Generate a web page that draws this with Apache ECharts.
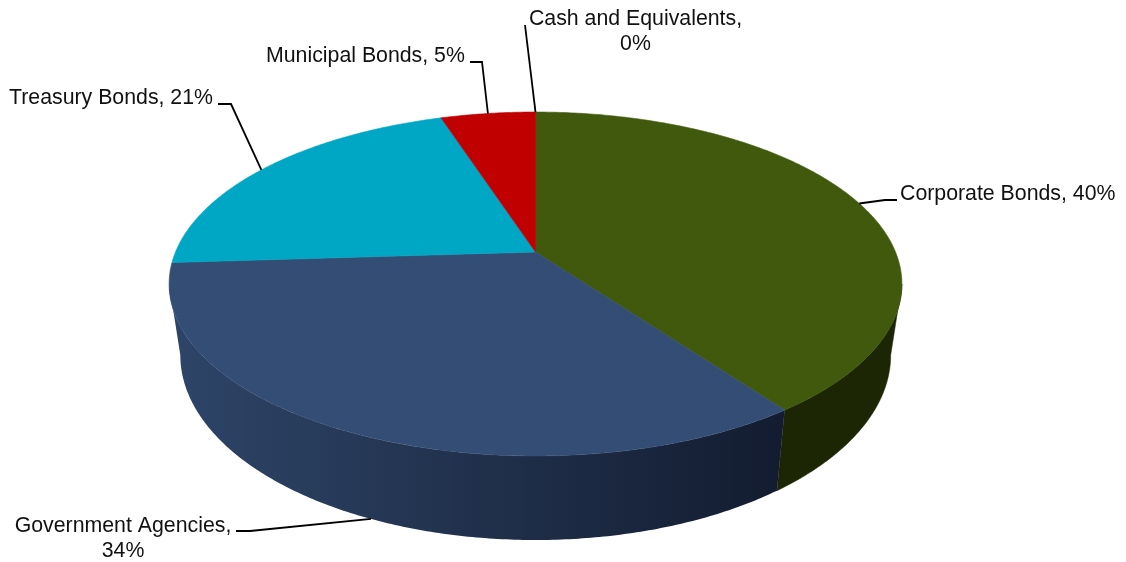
<!DOCTYPE html>
<html>
<head>
<meta charset="utf-8">
<title>Bond portfolio allocation</title>
<style>
  html, body { margin: 0; padding: 0; background: #fff; }
  #chart { width: 1126px; height: 562px; }
</style>
<script src="https://cdn.jsdelivr.net/npm/echarts@6/dist/echarts.min.js"></script>
</head>
<body>
<div id="chart"></div>
<script>
// Allocation by asset class, clockwise from twelve o'clock.
const categories = ['Corporate Bonds', 'Government Agencies', 'Treasury Bonds', 'Municipal Bonds', 'Cash and Equivalents'];
const shares = [40, 34, 21, 5, 0];
const labelLines = [
  ['Corporate Bonds, 40%'],
  ['Government Agencies,', '34%'],
  ['Treasury Bonds, 21%'],
  ['Municipal Bonds, 5%'],
  ['Cash and Equivalents,', '0%']
];

// Face colours.
const topColors = ['#40590c', '#344d74', '#00a7c4', '#c00000', '#7f7f7f'];
const wallColors = [
  ['#1c2604', '#1c2604'],
  ['#2e4568', '#131c30'],
  ['#00606f', '#00606f'],
  ['#700000', '#700000'],
  ['#444444', '#444444']
];

// Perspective projection of the two disc rims: a unit-circle point maps through
// x = cx + a*X/(1 + k*Y), y = cy + b*Y/(1 + k*Y).
const k = -0.186;
const topRim = { cx: 535.5, cy: 252, a: 360, b: 166 };
const bottomRim = { cx: 535.5, cy: 320.6, a: 349, b: 178.6 };

// Callout layout: label position plus the leader bend points; the leader's inner
// end sits on the named rim at the slice's mid angle, moved by nudge degrees.
const callouts = [
  { x: 900, y: 182, align: 'left', rim: 'top', nudge: 0, bend: [[885, 200], [897, 200]] },
  { x: 123, y: 514, align: 'center', rim: 'bottom', nudge: -2.2, bend: [[250, 531], [236, 531]] },
  { x: 9, y: 86, align: 'left', rim: 'top', nudge: -1.2, bend: [[231, 104], [218, 104]] },
  { x: 266, y: 44, align: 'left', rim: 'top', nudge: 0, bend: [[482, 62], [470, 62]] },
  { x: 635.5, y: 7, align: 'center', rim: 'top', nudge: 0, bend: [[525, 25]] }
];

const FONT = '"Liberation Sans", Arial, sans-serif';
const FONT_SIZE = 21.3;
const LINE_H = 25;

const total = shares.reduce((s, v) => s + v, 0);
const angleOf = share => share / total * 2 * Math.PI;

// Start and end angle of each slice, clockwise from the top.
const spans = [];
shares.reduce((acc, v) => {
  spans.push([angleOf(acc), angleOf(acc + v)]);
  return acc + v;
}, 0);

function project(rim, theta) {
  const X = Math.sin(theta), Y = -Math.cos(theta);
  const w = 1 + k * Y;
  return [rim.cx + rim.a * X / w, rim.cy + rim.b * Y / w];
}

function arc(rim, from, to) {
  const n = Math.max(2, Math.ceil(Math.abs(to - from) / 0.01));
  const pts = [];
  for (let i = 0; i <= n; i++) pts.push(project(rim, from + (to - from) * i / n));
  return pts;
}

// The wall is only visible between the two silhouette angles of the rim.
const silhouetteRight = Math.acos(k);
const silhouetteLeft = 2 * Math.PI - silhouetteRight;

function renderWall(params, api) {
  const i = params.dataIndex;
  const from = Math.max(spans[i][0], silhouetteRight);
  const to = Math.min(spans[i][1], silhouetteLeft);
  if (api.value(0) <= 0 || to <= from) return null;
  const upper = arc(topRim, from, to);
  const lower = arc(bottomRim, from, to).reverse();
  const [c0, c1] = wallColors[i];
  // Shading runs across the wall's horizontal extent, lighter on the left.
  const fill = new echarts.graphic.LinearGradient(0, 0, 1, 0, [
    { offset: 0, color: c0 }, { offset: 1, color: c1 }
  ]);
  return {
    type: 'polygon',
    shape: { points: upper.concat(lower) },
    style: { fill: fill, stroke: c0 === c1 ? c0 : null, lineWidth: 0.5 }
  };
}

function renderTop(params, api) {
  const i = params.dataIndex;
  if (api.value(0) <= 0) return null;
  const pts = [[topRim.cx, topRim.cy]].concat(arc(topRim, spans[i][0], spans[i][1]));
  return {
    type: 'polygon',
    shape: { points: pts },
    style: { fill: topColors[i], stroke: topColors[i], lineWidth: 0.6 }
  };
}

function renderCallout(params) {
  const i = params.dataIndex;
  const c = callouts[i];
  const mid = (spans[i][0] + spans[i][1]) / 2 + c.nudge * Math.PI / 180;
  const anchor = project(c.rim === 'top' ? topRim : bottomRim, mid);
  return {
    type: 'group',
    children: [
      {
        type: 'polyline',
        shape: { points: [anchor].concat(c.bend) },
        style: { stroke: '#000', lineWidth: 1.8, fill: null }
      },
      {
        type: 'text',
        x: c.x,
        y: c.y,
        style: {
          text: labelLines[i].join('\n'),
          font: FONT_SIZE + 'px ' + FONT,
          lineHeight: LINE_H,
          fill: '#111',
          align: c.align,
          verticalAlign: 'top'
        }
      }
    ]
  };
}

const seriesData = shares.map((v, i) => ({ name: categories[i], value: [v] }));

const chart = echarts.init(document.getElementById('chart'), null, { renderer: 'canvas' });
chart.setOption({
  animation: false,
  backgroundColor: '#ffffff',
  series: [
    { type: 'custom', coordinateSystem: 'none', z: 1, silent: true, renderItem: renderWall, data: seriesData },
    { type: 'custom', coordinateSystem: 'none', z: 2, silent: true, renderItem: renderTop, data: seriesData },
    { type: 'custom', coordinateSystem: 'none', z: 3, silent: true, renderItem: renderCallout, data: seriesData }
  ]
});
</script>
</body>
</html>
